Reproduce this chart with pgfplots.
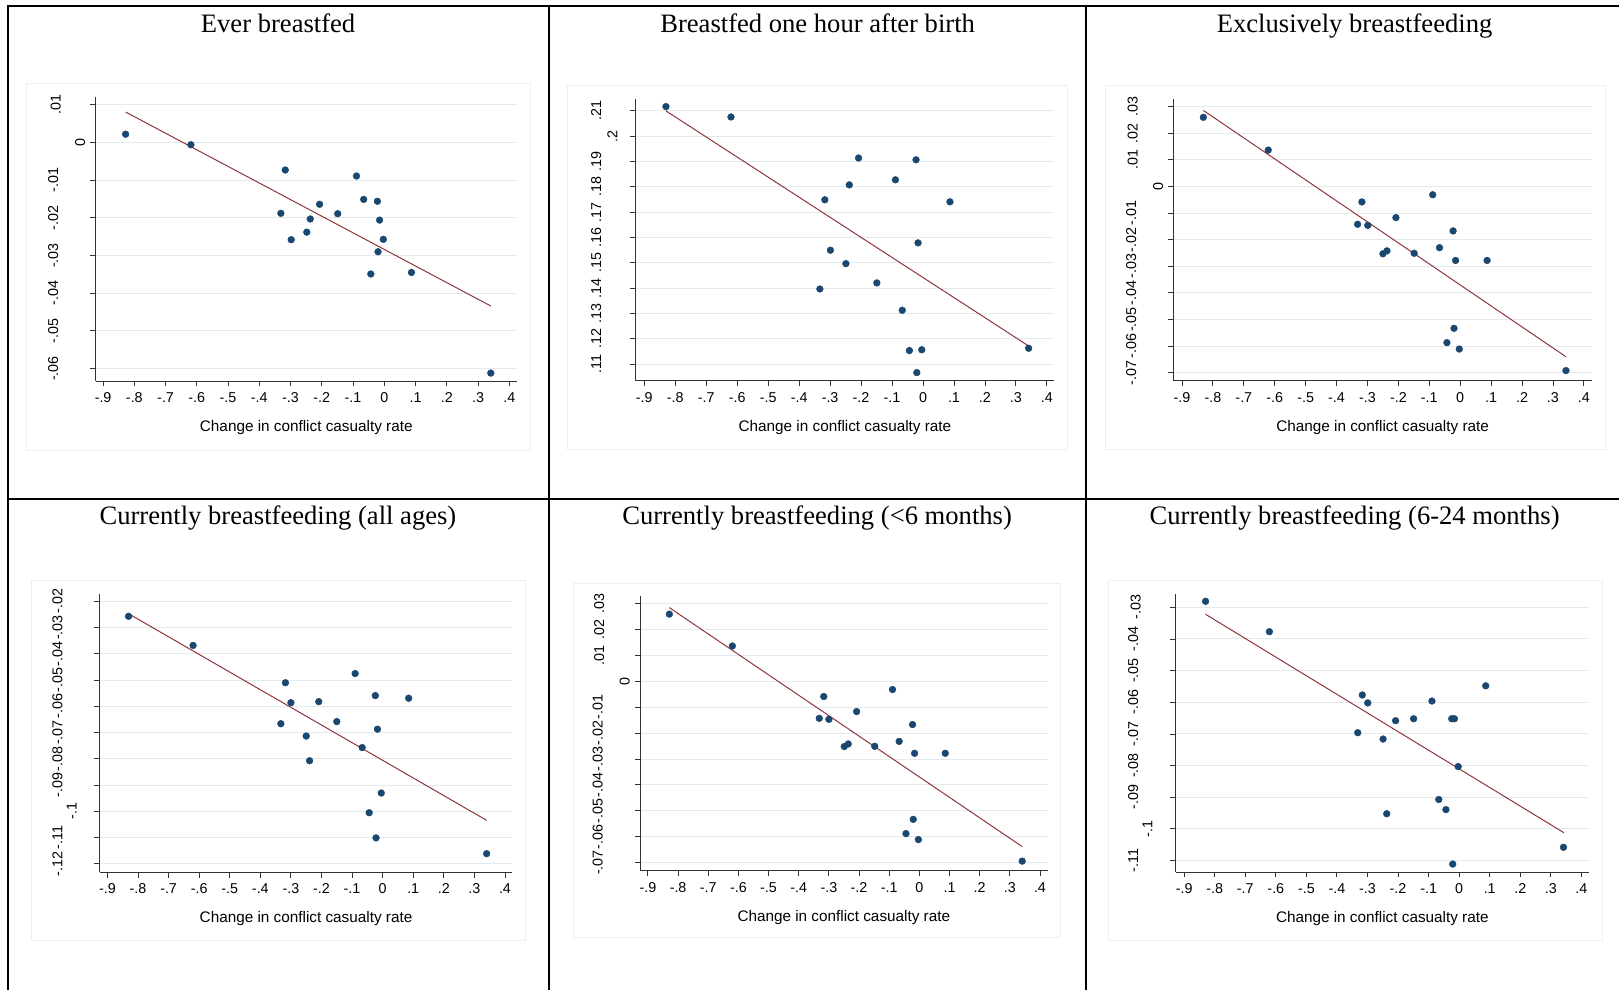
\documentclass[border=0pt]{standalone}
\usepackage{pgfplots}
\pgfplotsset{compat=1.18}
\usepackage{fontspec}
\setmainfont{Liberation Serif}
\newfontfamily\arial{Liberation Sans}
\usepackage{graphicx}
\definecolor{navy}{RGB}{26,71,111}
\definecolor{maroon}{RGB}{144,53,59}
\definecolor{gridc}{RGB}{226,234,237}
\definecolor{regc}{RGB}{236,240,242}
\newcommand\yl[2]{\raisebox{#1pt}[0pt][0pt]{#2}}
\pgfplotsset{
  stata/.style={
    scale only axis, anchor=south west,
    axis lines*=left,
    axis line style={black!80, line width=0.9pt},
    tick align=outside,
    major tick length=5.5pt,
    tick style={black!80, line width=0.9pt},
    ymajorgrids,
    grid style={gridc, line width=1pt},
    scaled y ticks=false, scaled x ticks=false,
    xtick={-0.9,-0.8,-0.7,-0.6,-0.5,-0.4,-0.3,-0.2,-0.1,0,0.1,0.2,0.3,0.4},
    xticklabels={-.9,-.8,-.7,-.6,-.5,-.4,-.3,-.2,-.1,0,.1,.2,.3,.4},
    ticklabel style={font=\arial\fontsize{14.3}{16}\selectfont, text=black},
    xticklabel style={anchor=base, yshift=-16pt},
    yticklabel style={rotate=90, anchor=center, inner sep=0pt},
    xlabel={Change in conflict casualty rate},
    xlabel style={font=\arial\fontsize{15.3}{17}\selectfont, at={(axis description cs:0.5,0)}, anchor=base, yshift=-50.5pt},
    clip=false,
  },
  dots/.style={only marks, mark=*, mark size=3.4pt, mark options={fill=navy, draw=navy}, color=navy},
  fitl/.style={no marks, maroon, line width=1pt},
}
\begin{document}
\begin{tikzpicture}[x=1pt,y=1pt]
\path[use as bounding box] (0,0) rectangle (1619,990);
% graph region outlines
\draw[regc, line width=0.8pt] (26.8,540) rectangle (530.8,906.7);
\draw[regc, line width=0.8pt] (567.4,540.7) rectangle (1067.8,905);
\draw[regc, line width=0.8pt] (1105.4,540.7) rectangle (1605.4,905);
\draw[regc, line width=0.8pt] (31.3,50) rectangle (525.5,410);
\draw[regc, line width=0.8pt] (573.6,52.3) rectangle (1060.5,406.7);
\draw[regc, line width=0.8pt] (1108.2,50) rectangle (1602.7,410);

% Panel 1
\begin{axis}[stata, at={(95.6pt,609pt)}, width=421.3pt, height=283.7pt,
  xmin=-0.924, xmax=0.4245, ymin=-0.0633, ymax=0.012,
  ytick={-0.06,-0.05,-0.04,-0.03,-0.02,-0.01,0,0.01},
  yticklabels={\yl{31.9}{-.06},\yl{31.9}{-.05},\yl{31.9}{-.04},\yl{31.9}{-.03},\yl{31.9}{-.02},\yl{31.9}{-.01},\yl{4.9}{0},\yl{29.4}{.01}}]
\addplot[dots] coordinates {(-0.828,0.0022) (-0.619,-0.0006) (-0.317,-0.0073) (-0.089,-0.0089) (-0.331,-0.0188) (-0.066,-0.0151) (-0.022,-0.0156) (-0.207,-0.0164) (-0.149,-0.0189) (-0.237,-0.0203) (-0.015,-0.0206) (-0.248,-0.0238) (-0.298,-0.0258) (-0.003,-0.0257) (-0.020,-0.0290) (-0.043,-0.0349) (0.087,-0.0345) (0.341,-0.0612)};
\addplot[fitl] coordinates {(-0.828,0.0081) (0.341,-0.0434)};
\end{axis}

% Panel 2
\begin{axis}[stata, at={(635.9pt,609.3pt)}, width=418.1pt, height=281.7pt,
  xmin=-0.927, xmax=0.423, ymin=0.1035, ymax=0.2147,
  ytick={0.11,0.12,0.13,0.14,0.15,0.16,0.17,0.18,0.19,0.2,0.21},
  yticklabels={\yl{29.4}{.11},\yl{29.4}{.12},\yl{29.4}{.13},\yl{29.4}{.14},\yl{29.4}{.15},\yl{29.4}{.16},\yl{29.4}{.17},\yl{29.4}{.18},\yl{29.4}{.19},\yl{13.1}{.2},\yl{29.4}{.21}}]
\addplot[dots] coordinates {(-0.830,0.2117) (-0.620,0.2076) (-0.208,0.1914) (-0.0225,0.1907) (-0.089,0.1828) (-0.238,0.1808) (-0.317,0.1749) (0.087,0.1741) (-0.016,0.1579) (-0.299,0.1550) (-0.249,0.1497) (-0.149,0.1421) (-0.333,0.1397) (-0.067,0.1313) (-0.044,0.1154) (-0.004,0.1157) (0.341,0.1163) (-0.020,0.1067)};
\addplot[fitl] coordinates {(-0.830,0.2100) (0.341,0.1172)};
\end{axis}

% Panel 3
\begin{axis}[stata, at={(1173.5pt,609.3pt)}, width=418.2pt, height=281.7pt,
  xmin=-0.9275, xmax=0.4254, ymin=-0.0730, ymax=0.0329,
  ytick={-0.07,-0.06,-0.05,-0.04,-0.03,-0.02,-0.01,0,0.01,0.02,0.03},
  yticklabels={\yl{31.9}{-.07},\yl{31.9}{-.06},\yl{31.9}{-.05},\yl{31.9}{-.04},\yl{31.9}{-.03},\yl{31.9}{-.02},\yl{31.9}{-.01},\yl{4.9}{0},\yl{30.5}{.01},\yl{30.5}{.02},\yl{30.5}{.03}}]
\addplot[dots] coordinates {(-0.831,0.0260) (-0.621,0.0137) (-0.318,-0.0058) (-0.089,-0.0031) (-0.332,-0.0142) (-0.299,-0.0146) (-0.208,-0.0117) (-0.023,-0.0167) (-0.250,-0.0253) (-0.237,-0.0242) (-0.149,-0.0251) (-0.067,-0.0230) (-0.015,-0.0278) (0.087,-0.0278) (-0.020,-0.0533) (-0.043,-0.0587) (-0.003,-0.0611) (0.342,-0.0692)};
\addplot[fitl] coordinates {(-0.831,0.0286) (0.342,-0.0640)};
\end{axis}

% Panel 4
\begin{axis}[stata, at={(99.8pt,117.7pt)}, width=412.5pt, height=278.3pt,
  xmin=-0.925, xmax=0.424, ymin=-0.1232, ymax=-0.0172,
  ytick={-0.12,-0.11,-0.1,-0.09,-0.08,-0.07,-0.06,-0.05,-0.04,-0.03,-0.02},
  yticklabels={\yl{31.9}{-.12},\yl{31.9}{-.11},\yl{17.8}{-.1},\yl{31.9}{-.09},\yl{31.9}{-.08},\yl{31.9}{-.07},\yl{31.9}{-.06},\yl{31.9}{-.05},\yl{31.9}{-.04},\yl{31.9}{-.03},\yl{31.9}{-.02}}]
\addplot[dots] coordinates {(-0.831,-0.0257) (-0.620,-0.0368) (-0.090,-0.0475) (-0.318,-0.0510) (-0.024,-0.0559) (0.085,-0.0569) (-0.300,-0.0586) (-0.209,-0.0582) (-0.333,-0.0666) (-0.150,-0.0658) (-0.017,-0.0687) (-0.250,-0.0713) (-0.067,-0.0757) (-0.239,-0.0807) (-0.0045,-0.0930) (-0.044,-0.1005) (-0.0216,-0.1101) (0.340,-0.1161)};
\addplot[fitl] coordinates {(-0.831,-0.0247) (0.340,-0.1034)};
\end{axis}

% Panel 5
\begin{axis}[stata, at={(640.1pt,119.3pt)}, width=407.4pt, height=274.7pt,
  xmin=-0.926, xmax=0.425, ymin=-0.0731, ymax=0.0329,
  ytick={-0.07,-0.06,-0.05,-0.04,-0.03,-0.02,-0.01,0,0.01,0.02,0.03},
  yticklabels={\yl{31.9}{-.07},\yl{31.9}{-.06},\yl{31.9}{-.05},\yl{31.9}{-.04},\yl{31.9}{-.03},\yl{31.9}{-.02},\yl{31.9}{-.01},\yl{4.9}{0},\yl{30.5}{.01},\yl{30.5}{.02},\yl{30.5}{.03}}]
\addplot[dots] coordinates {(-0.829,0.0259) (-0.620,0.0136) (-0.089,-0.0032) (-0.317,-0.0059) (-0.208,-0.0117) (-0.332,-0.0143) (-0.300,-0.0147) (-0.0226,-0.0167) (-0.067,-0.0232) (-0.249,-0.0252) (-0.236,-0.0242) (-0.148,-0.0251) (-0.0158,-0.0278) (0.0859,-0.0278) (-0.0203,-0.0533) (-0.0444,-0.0588) (-0.0032,-0.0611) (0.341,-0.0694)};
\addplot[fitl] coordinates {(-0.829,0.0284) (0.341,-0.0638)};
\end{axis}

% Panel 6
\begin{axis}[stata, at={(1175.6pt,118pt)}, width=413.4pt, height=278.3pt,
  xmin=-0.928, xmax=0.425, ymin=-0.1136, ymax=-0.0257,
  ytick={-0.11,-0.1,-0.09,-0.08,-0.07,-0.06,-0.05,-0.04,-0.03},
  yticklabels={\yl{31.9}{-.11},\yl{17.8}{-.1},\yl{31.9}{-.09},\yl{31.9}{-.08},\yl{31.9}{-.07},\yl{31.9}{-.06},\yl{31.9}{-.05},\yl{31.9}{-.04},\yl{29.4}{-.03}}]
\addplot[dots] coordinates {(-0.830,-0.0281) (-0.621,-0.0377) (0.087,-0.0548) (-0.317,-0.0577) (-0.299,-0.0602) (-0.089,-0.0596) (-0.149,-0.0652) (-0.0244,-0.0652) (-0.0155,-0.0652) (-0.208,-0.0658) (-0.332,-0.0696) (-0.249,-0.0716) (-0.0032,-0.0803) (-0.0667,-0.0907) (-0.0433,-0.0939) (-0.237,-0.0952) (0.3414,-0.1058) (-0.021,-0.1111)};
\addplot[fitl] coordinates {(-0.830,-0.0322) (0.343,-0.1012)};
\end{axis}

% table borders
\draw[line width=2.2pt] (8.2,0) -- (8.2,985.1);
\draw[line width=2.1pt] (7.1,984) -- (1619,984);
\draw[line width=2.1pt] (549.3,0) -- (549.3,984);
\draw[line width=2.1pt] (1086,0) -- (1086,984);
\draw[line width=2.1pt] (8.2,491.2) -- (1619,491.2);

% titles
\begin{scope}[every node/.style={anchor=base, inner sep=0pt, font=\fontsize{26.6}{31}\selectfont}]
\node at (278.1,957.5) {Ever breastfed};
\node at (817.6,957.5) {Breastfed one hour after birth};
\node at (1354.6,957.5) {Exclusively breastfeeding};
\node at (277.9,465.5) {Currently breastfeeding (all ages)};
\node at (817.1,465.5) {Currently breastfeeding (<6 months)};
\node at (1354.6,465.5) {Currently breastfeeding (6-24 months)};
\end{scope}
\end{tikzpicture}
\end{document}
